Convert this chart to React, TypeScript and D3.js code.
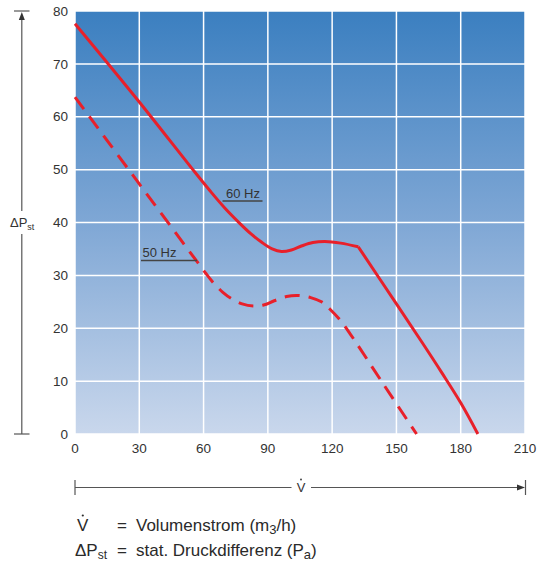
import React from 'react';
import * as d3 from 'd3';

const xTicks = [0, 30, 60, 90, 120, 150, 180, 210];
const yTicks = [0, 10, 20, 30, 40, 50, 60, 70, 80];

// 60 Hz curve (solid): smooth part up to the kink, then the steep part
const hz60CurveX = [0, 30, 55, 63, 70, 77, 82, 87, 92, 96.4, 101, 106, 111, 116.6, 124, 132.2];
const hz60CurveY = [77.6, 62.8, 50, 46.0, 42.7, 39.8, 37.9, 36.3, 35.0, 34.5, 34.8, 35.6, 36.2, 36.4, 36.1, 35.4];
const hz60DropX = [132.2, 150, 162, 171, 180, 188];
const hz60DropY = [35.4, 24.6, 17.3, 11.7, 5.9, 0];

// 50 Hz curve (dashed)
const hz50X = [0, 30, 57.5, 61, 65, 69, 73, 78, 83.2, 88, 93, 98.7, 104, 110, 115, 119, 123.6, 128.3, 143.8, 159.4];
const hz50Y = [63.7, 47.3, 32.3, 30.4, 28.4, 26.8, 25.6, 24.6, 24.2, 24.4, 25.2, 26.0, 26.2, 25.8, 25.0, 23.6, 21.6, 19.0, 9.5, 0];

const W = 538;
const H = 564;
const FONT = "'Liberation Sans', Arial, Helvetica, sans-serif";

export default function App() {
  const x = d3.scaleLinear().domain([0, 210]).range([75, 525]);
  const y = d3.scaleLinear().domain([0, 80]).range([434, 11]);

  const line = d3
    .line<[number, number]>()
    .x((d) => x(d[0]))
    .y((d) => y(d[1]))
    .curve(d3.curveCatmullRom.alpha(0.5));

  const zip = (a: number[], b: number[]) => a.map((v, i) => [v, b[i]] as [number, number]);
  const p60 = (line(zip(hz60CurveX, hz60CurveY)) || '') + (line(zip(hz60DropX, hz60DropY)) || '');
  const p50 = line(zip(hz50X, hz50Y)) || '';

  const red = '#e8202a';
  const axisCol = '#555';
  const txt = '#2a2a2a';

  return (
    <svg width={W} height={H} style={{ position: 'absolute', left: 0, top: 0, fontFamily: FONT }}>
      <defs>
        <linearGradient id="bg" x1="0" y1="0" x2="0" y2="1">
          <stop offset="0%" stopColor="#3b7fc0" />
          <stop offset="50%" stopColor="#7fa7d5" />
          <stop offset="100%" stopColor="#c9d7ec" />
        </linearGradient>
      </defs>
      <rect x={x(0)} y={y(80)} width={x(210) - x(0)} height={y(0) - y(80)} fill="url(#bg)" />
      {xTicks.map((t) => (
        <line key={'gx' + t} x1={x(t)} x2={x(t)} y1={y(0)} y2={y(80)} stroke="#fff" strokeWidth={1.5} />
      ))}
      {yTicks.map((t) => (
        <line key={'gy' + t} x1={x(0)} x2={x(210)} y1={y(t)} y2={y(t)} stroke="#fff" strokeWidth={1.5} />
      ))}
      {/* tick labels */}
      {yTicks.map((t) => (
        <text key={'ty' + t} x={68} y={y(t)} dy="0.35em" textAnchor="end" fontSize={13.5} fill="#333">
          {t}
        </text>
      ))}
      {xTicks.map((t) => (
        <text key={'tx' + t} x={x(t)} y={453} textAnchor="middle" fontSize={13.5} fill="#333">
          {t}
        </text>
      ))}
      {/* curves */}
      <path d={p50} fill="none" stroke={red} strokeWidth={3} strokeDasharray="15,9" />
      <path d={p60} fill="none" stroke={red} strokeWidth={3} strokeLinejoin="round" />
      {/* curve labels */}
      <text x={226} y={198} fontSize={13} fill="#333">60 Hz</text>
      <line x1={222.5} x2={262.5} y1={201} y2={201} stroke="#444" strokeWidth={1.5} />
      <text x={142.5} y={256.5} fontSize={13} fill="#333">50 Hz</text>
      <line x1={141} x2={197} y1={260.5} y2={260.5} stroke="#444" strokeWidth={1.5} />
      {/* left axis arrow */}
      <line x1={14} x2={29.5} y1={11} y2={11} stroke={axisCol} strokeWidth={1.2} />
      <line x1={14} x2={29.5} y1={434} y2={434} stroke={axisCol} strokeWidth={1.2} />
      <line x1={21.8} x2={21.8} y1={16} y2={211} stroke={axisCol} strokeWidth={1.2} />
      <line x1={21.8} x2={21.8} y1={234} y2={434} stroke={axisCol} strokeWidth={1.2} />
      <path d="M21.8,12 L18.8,20 L24.8,20 Z" fill="#333" />
      <text x={10} y={227} fontSize={13} fill="#333">
        ΔP<tspan fontSize={9} dy={3}>st</tspan>
      </text>
      {/* bottom axis arrow */}
      <line x1={75} x2={75} y1={480} y2={495} stroke={axisCol} strokeWidth={1.2} />
      <line x1={525.5} x2={525.5} y1={480} y2={495} stroke={axisCol} strokeWidth={1.2} />
      <line x1={75} x2={291.5} y1={487.5} y2={487.5} stroke={axisCol} strokeWidth={1.2} />
      <line x1={311} x2={520} y1={487.5} y2={487.5} stroke={axisCol} strokeWidth={1.2} />
      <path d="M525,487.5 L517,484.5 L517,490.5 Z" fill="#333" />
      <text x={301} y={492} fontSize={13} textAnchor="middle" fill="#333">V</text>
      <circle cx={301} cy={479.5} r={0.9} fill="#333" />
      {/* legend */}
      <text x={77} y={531} fontSize={17} fill={txt}>V</text>
      <circle cx={82.8} cy={515.5} r={1.1} fill={txt} />
      <text x={117} y={531} fontSize={17} fill={txt}>=</text>
      <text x={136} y={531} fontSize={17} fill={txt}>
        Volumenstrom (m<tspan fontSize={13} dy={3}>3</tspan>
        <tspan dy={-3}>/h)</tspan>
      </text>
      <text x={75} y={556} fontSize={17} fill={txt}>
        ΔP<tspan fontSize={12} dy={3}>st</tspan>
      </text>
      <text x={117} y={556} fontSize={17} fill={txt}>=</text>
      <text x={136} y={556} fontSize={17} fill={txt}>
        stat. Druckdifferenz (P<tspan fontSize={13} dy={3}>a</tspan>
        <tspan dy={-3}>)</tspan>
      </text>
    </svg>
  );
}
